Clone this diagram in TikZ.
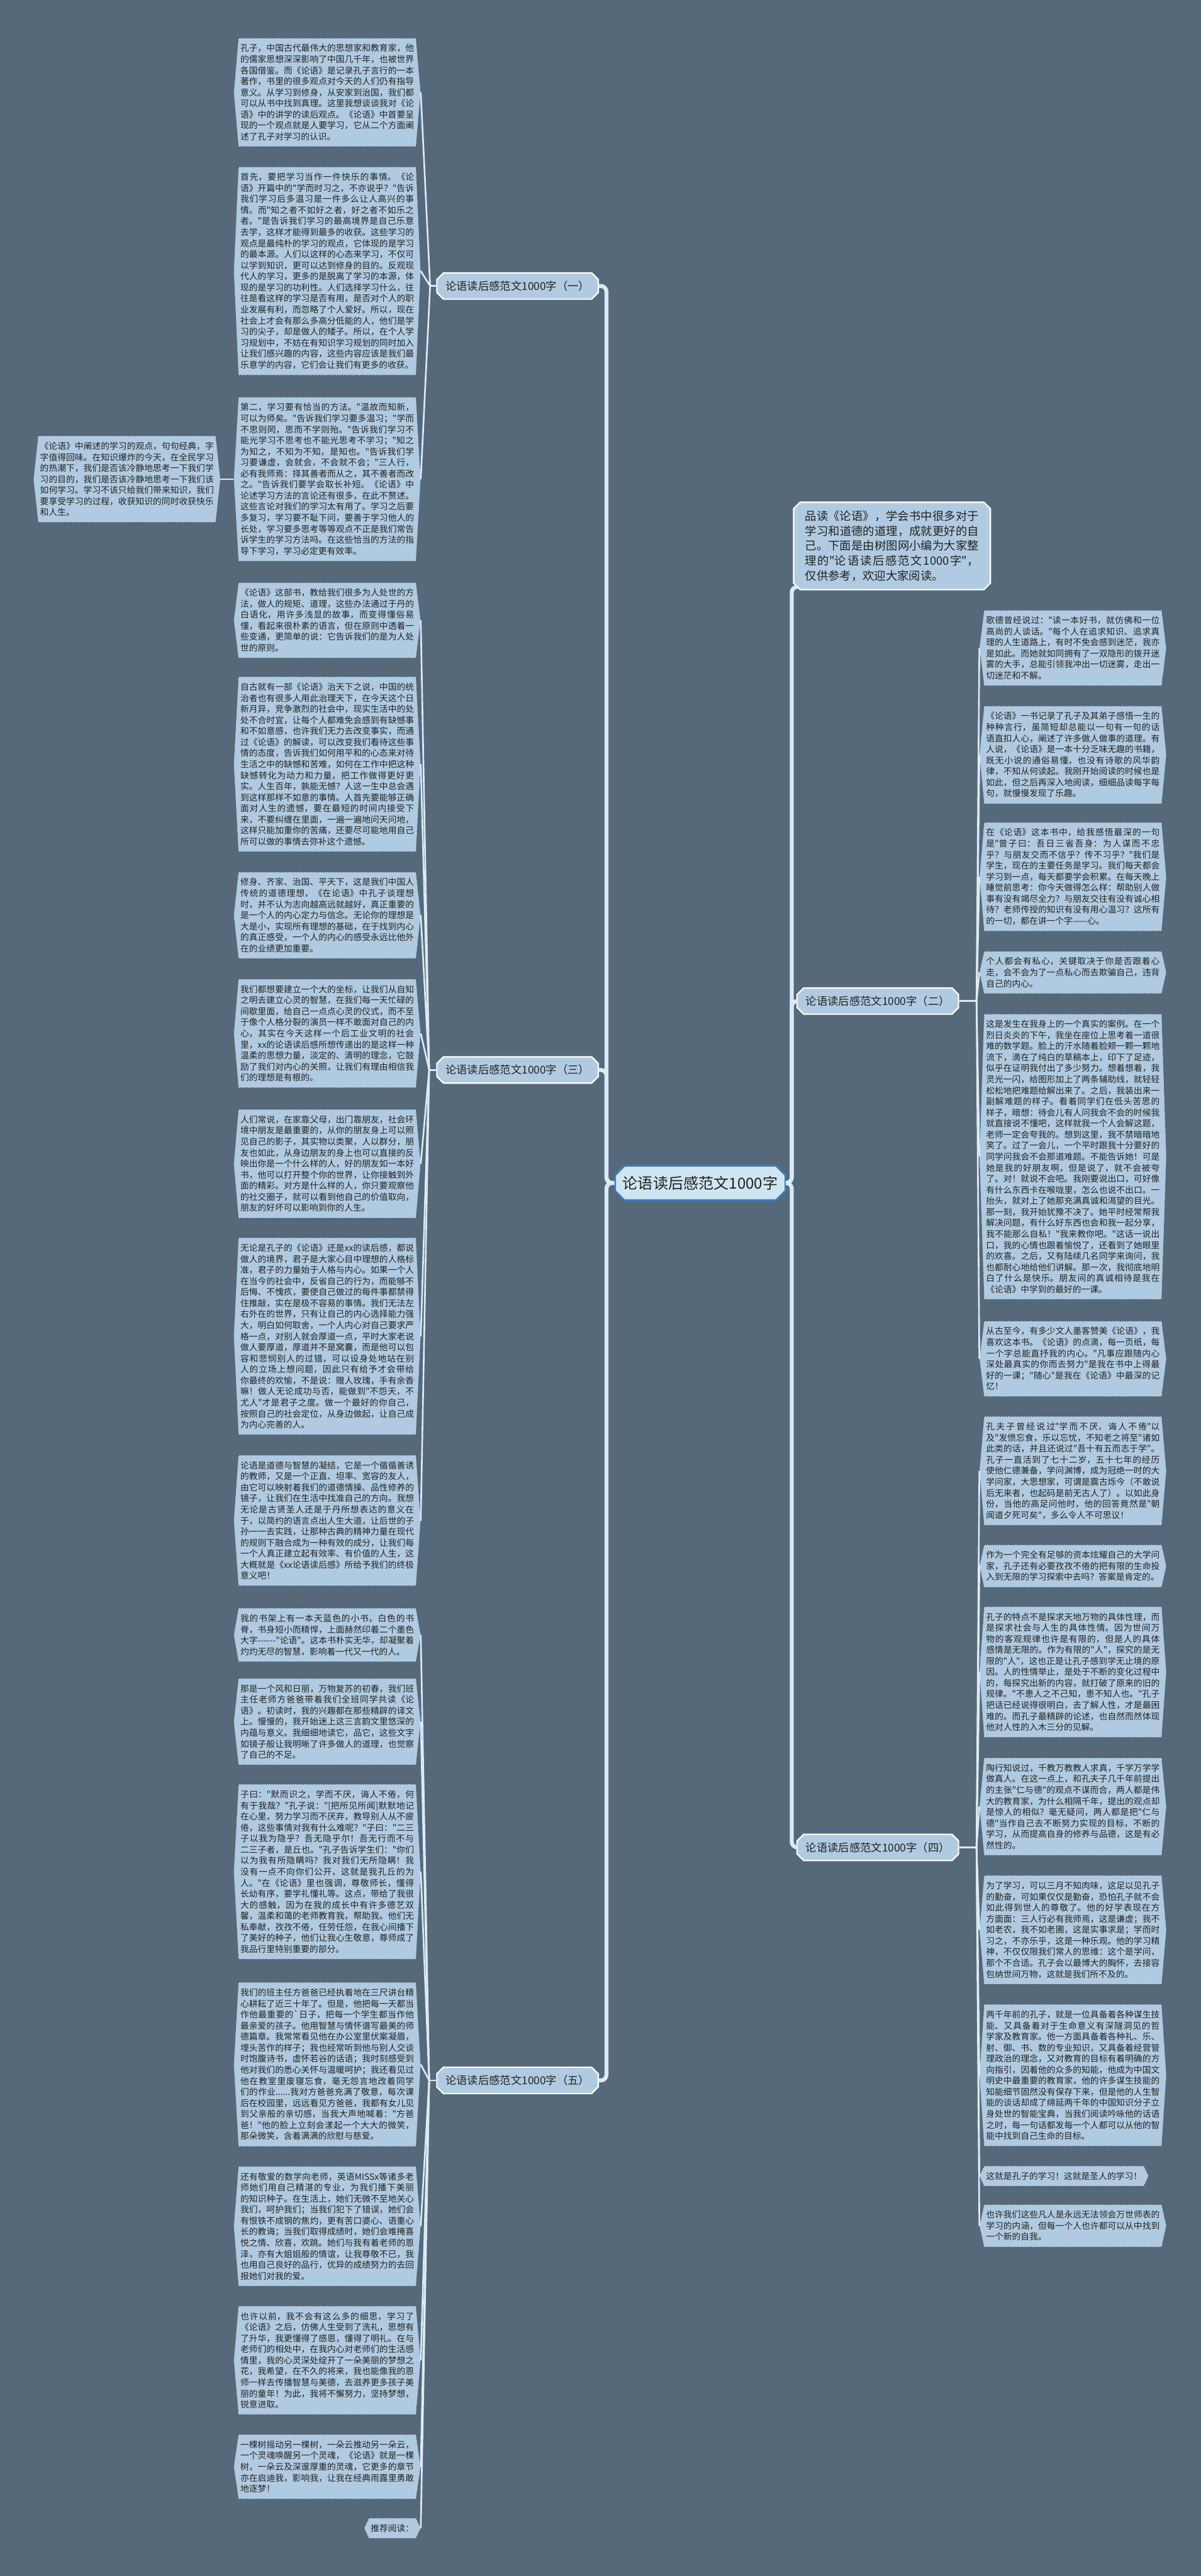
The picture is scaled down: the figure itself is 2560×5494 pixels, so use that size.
\documentclass[tikz,border=0pt]{standalone}
\usepackage{fontspec}
\newfontfamily\zhfont{Noto Sans CJK SC}
\XeTeXlinebreaklocale "zh"
\XeTeXlinebreakskip=0pt plus 1pt
\usetikzlibrary{
  positioning,
  shapes.misc,
  calc,
}
\definecolor{canvasBg}{HTML}{56697A}
\definecolor{rootFill}{HTML}{D0E5F2}
\definecolor{rootBorder}{HTML}{3C7DC0}
\definecolor{branchFill}{HTML}{B0CBE1}
\definecolor{leafFill}{HTML}{B0CBE1}
\definecolor{leafDot}{HTML}{2E3A44}
\definecolor{lineCol}{HTML}{DCEAF5}
\definecolor{textMain}{HTML}{222222}
\pgfdeclarelayer{canvas}
\pgfdeclarelayer{leafbg}
\pgfsetlayers{canvas,leafbg,main}
\tikzset{
  rootbox/.style={
    chamfered rectangle, chamfered rectangle xsep=0.1cm, chamfered rectangle ysep=0.1cm,
    draw=rootBorder, fill=rootFill, line width=1pt, text=textMain,
    minimum width=3.63cm, minimum height=0.73cm, inner sep=1pt,
    font=\zhfont\fontsize{9.2}{11}\selectfont,
  },
  branchbox/.style={
    chamfered rectangle, chamfered rectangle xsep=0.07cm, chamfered rectangle ysep=0.07cm,
    draw=white, fill=branchFill, line width=0.8pt, text=textMain,
    minimum width=3.44cm, minimum height=0.56cm, inner sep=1pt,
    font=\zhfont\fontsize{6.6}{8}\selectfont,
  },
  introbox/.style={
    chamfered rectangle, chamfered rectangle xsep=0.07cm, chamfered rectangle ysep=0.07cm,
    draw=white, fill=branchFill, line width=0.8pt, text=textMain,
    text width=105.3pt, align=justify, inner xsep=5pt, inner ysep=3pt,
    font=\zhfont\fontsize{7}{9.1}\selectfont,
  },
  leaf/.style={
    inner xsep=1pt, inner ysep=3.5pt, text=textMain,
    font=\zhfont\fontsize{5.25}{6.7}\selectfont,
  },
  leafwide/.style={leaf, text width=105.3pt, align=justify},
  leafline/.style={fill=leafFill, draw=leafDot, densely dotted, line width=0.4pt},
  trunk/.style={draw=lineCol, line width=2.4pt, rounded corners=0.12cm},
  twig/.style={draw=lineCol, line width=1pt},
}
\newcommand{\leafedge}[1]{%
  \filldraw[leafline] (#1.north west) -- (#1.north east) -- ([xshift=0.1cm]#1.east)
    -- (#1.south east) -- (#1.south west) -- ([xshift=-0.1cm]#1.west) -- cycle;}

\begin{document}
\begin{tikzpicture}[x=0.01cm, y=-0.01cm]

  \useasboundingbox (0,0) rectangle (2560,5494);
  \begin{pgfonlayer}{canvas}
    \fill[canvasBg] (0,0) rectangle (2560,5494);
  \end{pgfonlayer}

  % Root and intro
  \node[rootbox] (root) at (1493,2523) {论语读后感范文1000字};
  \node[introbox, anchor=north west] (intro) at (1698,1077) {品读《论语》，学会书中很多对于学习和道德的道理，成就更好的自己。下面是由树图网小编为大家整理的"论语读后感范文1000字"，仅供参考，欢迎大家阅读。};

  % Branches
  \node[branchbox, anchor=east] (br1) at (1277,610) {论语读后感范文1000字（一）};
  \node[branchbox, anchor=east] (br3) at (1277,2282) {论语读后感范文1000字（三）};
  \node[branchbox, anchor=east] (br5) at (1277,4437) {论语读后感范文1000字（五）};
  \node[branchbox, anchor=west] (br2) at (1698,2135) {论语读后感范文1000字（二）};
  \node[branchbox, anchor=west] (br4) at (1698,3940) {论语读后感范文1000字（四）};

  % Left column
  \node[leafwide, anchor=east] (la1) at (887,197) {孔子，中国古代最伟大的思想家和教育家，他的儒家思想深深影响了中国几千年，也被世界各国借鉴。而《论语》是记录孔子言行的一本著作，书里的很多观点对今天的人们仍有指导意义。从学习到修身，从安家到治国，我们都可以从书中找到真理。这里我想谈谈我对《论语》中的讲学的读后观点。《论语》中首要呈现的一个观点就是人要学习，它从二个方面阐述了孔子对学习的认识。};
  \node[leafwide, anchor=east] (la2) at (887,578) {首先，要把学习当作一件快乐的事情。《论语》开篇中的"学而时习之，不亦说乎？"告诉我们学习后多温习是一件多么让人高兴的事情。而"知之者不如好之者，好之者不如乐之者。"是告诉我们学习的最高境界是自己乐意去学，这样才能得到最多的收获。这些学习的观点是最纯朴的学习的观点，它体现的是学习的最本源。人们以这样的心态来学习，不仅可以学到知识，更可以达到修身的目的。反观现代人的学习，更多的是脱离了学习的本源，体现的是学习的功利性。人们选择学习什么，往往是看这样的学习是否有用，是否对个人的职业发展有利，而忽略了个人爱好。所以，现在社会上才会有那么多高分低能的人，他们是学习的尖子，却是做人的矮子。所以，在个人学习规划中，不妨在有知识学习规划的同时加入让我们感兴趣的内容，这些内容应该是我们最乐意学的内容，它们会让我们有更多的收获。};
  \node[leafwide, anchor=east] (la3) at (887,1022) {第二，学习要有恰当的方法。"温故而知新，可以为师矣。"告诉我们学习要多温习；"学而不思则罔，思而不学则殆。"告诉我们学习不能光学习不思考也不能光思考不学习；"知之为知之，不知为不知，是知也。"告诉我们学习要谦虚，会就会，不会就不会；"三人行，必有我师焉：择其善者而从之，其不善者而改之。"告诉我们要学会取长补短。《论语》中论述学习方法的言论还有很多，在此不赘述。这些言论对我们的学习太有用了。学习之后要多复习，学习要不耻下问，要善于学习他人的长处，学习要多思考等等观点不正是我们常告诉学生的学习方法吗。在这些恰当的方法的指导下学习，学习必定更有效率。};
  \node[leafwide, anchor=east] (lx) at (460,1022) {《论语》中阐述的学习的观点，句句经典，字字值得回味。在知识爆炸的今天，在全民学习的热潮下，我们是否该冷静地思考一下我们学习的目的，我们是否该冷静地思考一下我们该如何学习。学习不该只给我们带来知识，我们要享受学习的过程，收获知识的同时收获快乐和人生。};
  \node[leafwide, anchor=east] (la4) at (887,1323) {《论语》这部书，教给我们很多为人处世的方法，做人的规矩、道理，这些办法通过于丹的白语化，用许多浅显的故事，而变得懂俗易懂，看起来很朴素的语言，但在原则中透着一些变通，更简单的说：它告诉我们的是为人处世的原则。};
  \node[leafwide, anchor=east] (la5) at (887,1630) {自古就有一部《论语》治天下之说，中国的统治者也有很多人用此治理天下，在今天这个日新月异，竞争激烈的社会中，现实生活中的处处不合时宜，让每个人都难免会感到有缺憾事和不如意感，也许我们无力去改变事实，而通过《论语》的解读，可以改变我们看待这些事情的态度，告诉我们如何用平和的心态来对待生活之中的缺憾和苦难，如何在工作中把这种缺憾转化为动力和力量，把工作做得更好更实。人生百年，孰能无憾？人这一生中总会遇到这样那样不如意的事情。人首先要能够正确面对人生的遗憾，要在最短的时间内接受下来，不要纠缠在里面，一遍一遍地问天问地，这样只能加重你的苦痛，还要尽可能地用自己所可以做的事情去弥补这个遗憾。};
  \node[leafwide, anchor=east] (la6) at (887,1952) {修身、齐家、治国、平天下，这是我们中国人传统的道德理想，《在论语》中孔子谈理想时，并不认为志向越高远就越好，真正重要的是一个人的内心定力与信念。无论你的理想是大是小，实现所有理想的基础，在于找到内心的真正感受，一个人的内心的感受永远比他外在的业绩更加重要。};
  \node[leafwide, anchor=east] (la7) at (887,2204) {我们都想要建立一个大的坐标，让我们从自知之明去建立心灵的智慧，在我们每一天忙碌的间歇里面，给自己一点点心灵的仪式，而不至于像个人格分裂的演员一样不敢面对自己的内心，其实在今天这样一个后工业文明的社会里，xx的论语读后感所想传递出的是这样一种温柔的思想力量，淡定的、清明的理念，它鼓励了我们对内心的关照，让我们有理由相信我们的理想是有根的。};
  \node[leafwide, anchor=east] (la8) at (887,2482) {人们常说，在家靠父母，出门靠朋友，社会环境中朋友是最重要的，从你的朋友身上可以照见自己的影子，其实物以类聚，人以群分，朋友也如此，从身边朋友的身上也可以直接的反映出你是一个什么样的人，好的朋友如一本好书，他可以打开整个你的世界，让你接触到外面的精彩。对方是什么样的人，你只要观察他的社交圈子，就可以看到他自己的价值取向，朋友的好坏可以影响到你的人生。};
  \node[leafwide, anchor=east] (la9) at (887,2850) {无论是孔子的《论语》还是xx的读后感，都说做人的境界，君子是大家心目中理想的人格标准，君子的力量始于人格与内心。如果一个人在当今的社会中，反省自己的行为，而能够不后悔、不愧疚，要使自己做过的每件事都禁得住推敲，实在是极不容易的事情。我们无法左右外在的世界，只有让自己的内心选择能力强大，明白如何取舍，一个人内心对自己要求严格一点，对别人就会厚道一点，平时大家老说做人要厚道，厚道并不是窝囊，而是他可以包容和悲悯别人的过错，可以设身处地站在别人的立场上想问题，因此只有给予才会带给你最终的欢愉，不是说：赠人玫瑰，手有余香嘛！做人无论成功与否，能做到"不怨天，不尤人"才是君子之度。做一个最好的你自己，按照自己的社会定位，从身边做起，让自己成为内心完善的人。};
  \node[leafwide, anchor=east] (la10) at (887,3243) {论语是道德与智慧的凝结，它是一个循循善诱的教师，又是一个正直、坦率、宽容的友人，由它可以映射着我们的道德情操、品性修养的镜子，让我们在生活中找准自己的方向。我想无论是古贤圣人还是于丹所想表达的意义在于，以简约的语言点出人生大道，让后世的子孙一一去实践，让那种古典的精神力量在现代的规则下融合成为一种有效的成分，让我们每一个人真正建立起有效率、有价值的人生，这大概就是《xx论语读后感》所给予我们的终极意义吧！};
  \node[leafwide, anchor=east] (la11) at (887,3487) {我的书架上有一本天蓝色的小书，白色的书脊，书身短小而精悍，上面赫然印着二个墨色大字------"论语"。这本书朴实无华，却凝聚着灼灼无尽的智慧，影响着一代又一代的人。};
  \node[leafwide, anchor=east] (la12) at (887,3672) {那是一个风和日丽，万物复苏的初春，我们班主任老师方爸爸带着我们全班同学共读《论语》。初读时，我的兴趣都在那些精辟的译文上。慢慢的，我开始迷上这三言韵文里悠深的内蕴与意义。我细细地读它，品它，这些文字如镜子般让我明晰了许多做人的道理，也觉察了自己的不足。};
  \node[leafwide, anchor=east] (la13) at (887,3992) {子曰："默而识之，学而不厌，诲人不倦，何有于我哉？"孔子说："[把所见所闻]默默地记在心里，努力学习而不厌弃，教导别人从不疲倦，这些事情对我有什么难呢？"子曰："二三子以我为隐乎？吾无隐乎尔！吾无行而不与二三子者，是丘也。"孔子告诉学生们："你们以为我有所隐瞒吗？我对我们无所隐瞒！我没有一点不向你们公开，这就是我孔丘的为人。"在《论语》里也强调，尊敬师长，懂得长幼有序，要学礼懂礼等。这点，带给了我很大的感触，因为在我的成长中有许多德艺双馨，温柔和蔼的老师教育我，帮助我。他们无私奉献，孜孜不倦，任劳任怨，在我心间播下了美好的种子，他们让我心生敬意，尊师成了我品行里特别重要的部分。};
  \node[leafwide, anchor=east] (la14) at (887,4403) {我们的班主任方爸爸已经执着地在三尺讲台精心耕耘了近三十年了。但是，他把每一天都当作他最重要的`日子，把每一个学生都当作他最亲爱的孩子。他用智慧与情怀谱写最美的师德篇章。我常常看见他在办公室里伏案凝眉，埋头苦作的样子；我也经常听到他与别人交谈时饱腹诗书，虚怀若谷的话语；我时刻感受到他对我们的悉心关怀与温暖呵护；我还看见过他在教室里废寝忘食，毫无怨言地改着同学们的作业......我对方爸爸充满了敬意，每次课后在校园里，远远看见方爸爸，我都有女儿见到父亲般的亲切感，当我大声地喊着："方爸爸！"他的脸上立刻会漾起一个大大的微笑，那朵微笑，含着满满的欣慰与慈爱。};
  \node[leafwide, anchor=east] (la15) at (887,4748) {还有敬爱的数学向老师，英语MISSx等诸多老师她们用自己精湛的专业，为我们播下美丽的知识种子。在生活上，她们无微不至地关心我们，呵护我们；当我们犯下了错误，她们会有恨铁不成钢的焦灼，更有苦口婆心、语重心长的教诲；当我们取得成绩时，她们会难掩喜悦之情、欣喜，欢跳。她们与我有着老师的恩泽，亦有大姐姐般的情谊，让我尊敬不已，我也用自己良好的品行，优异的成绩努力的去回报她们对我的爱。};
  \node[leafwide, anchor=east] (la16) at (887,5034) {也许以前，我不会有这么多的细思，学习了《论语》之后，仿佛人生受到了洗礼，思想有了升华，我更懂得了感恩，懂得了明礼。在与老师们的相处中，在我内心对老师们的生活感情里，我的心灵深处绽开了一朵美丽的梦想之花，我希望，在不久的将来，我也能像我的恩师一样去传播智慧与美德，去滋养更多孩子美丽的童年！为此，我将不懈努力，坚持梦想，锐意进取。};
  \node[leafwide, anchor=east] (la17) at (887,5261) {一棵树摇动另一棵树，一朵云推动另一朵云，一个灵魂唤醒另一个灵魂，《论语》就是一棵树，一朵云及深邃厚重的灵魂，它更多的章节亦在启迪我，影响我，让我在经典雨露里勇敢地逐梦！};
  \node[leaf, anchor=east] (la18) at (887,5392) {推荐阅读：};

  % Right column
  \node[leafwide, anchor=west] (ra1) at (2098,1382) {歌德曾经说过："读一本好书，就仿佛和一位高尚的人谈话。"每个人在追求知识、追求真理的人生道路上，有时不免会感到迷茫，我亦是如此。而她就如同拥有了一双隐形的拨开迷雾的大手，总能引领我冲出一切迷雾，走出一切迷茫和不解。};
  \node[leafwide, anchor=west] (ra2) at (2098,1610) {《论语》一书记录了孔子及其弟子感悟一生的种种言行，虽简短却总能以一句有一句的话语直扣人心，阐述了许多做人做事的道理。有人说，《论语》是一本十分乏味无趣的书籍，既无小说的通俗易懂，也没有诗歌的风华韵律，不知从何读起。我刚开始阅读的时候也是如此，但之后再深入地阅读，细细品读每字每句，就慢慢发现了乐趣。};
  \node[leafwide, anchor=west] (ra3) at (2098,1870) {在《论语》这本书中，给我感悟最深的一句是"曾子曰：吾日三省吾身：为人谋而不忠乎？与朋友交而不信乎？传不习乎？"我们是学生，现在的主要任务是学习。我们每天都会学习到一点，每天都要学会积累。在每天晚上睡觉前思考：你今天做得怎么样：帮助别人做事有没有竭尽全力？与朋友交往有没有诚心相待？老师传授的知识有没有用心温习？这所有的一切，都在讲一个字——心。};
  \node[leafwide, anchor=west] (ra4) at (2098,2074) {个人都会有私心，关键取决于你是否跟着心走，会不会为了一点私心而去欺骗自己，违背自己的内心。};
  \node[leafwide, anchor=west] (ra5) at (2098,2467) {这是发生在我身上的一个真实的案例。在一个烈日炎炎的下午，我坐在座位上思考着一道很难的数学题。脸上的汗水随着脸颊一颗一颗地流下，滴在了纯白的草稿本上，印下了足迹，似乎在证明我付出了多少努力。想着想着，我灵光一闪，给图形加上了两条辅助线，就轻轻松松地把难题给解出来了。之后，我装出来一副解难题的样子。看着同学们在低头苦思的样子，暗想：待会儿有人问我会不会的时候我就直接说不懂吧，这样就我一个人会解这题，老师一定会夸我的。想到这里，我不禁暗暗地笑了。过了一会儿，一个平时跟我十分要好的同学问我会不会那道难题。不能告诉她！可是她是我的好朋友啊，但是说了，就不会被夸了。对！就说不会吧。我刚要说出口，可好像有什么东西卡在喉咙里，怎么也说不出口。一抬头，就对上了她那充满真诚和渴望的目光。那一刻，我开始犹豫不决了。她平时经常帮我解决问题，有什么好东西也会和我一起分享，我不能那么自私！"我来教你吧。"这话一说出口，我的心情也跟着愉悦了，还看到了她眼里的欢喜。之后，又有陆续几名同学来询问，我也都耐心地给他们讲解。那一次，我彻底地明白了什么是快乐。朋友间的真诚相待是我在《论语》中学到的最好的一课。};
  \node[leafwide, anchor=west] (ra6) at (2098,2898) {从古至今，有多少文人墨客赞美《论语》，我喜欢这本书。《论语》的点滴，每一页纸，每一个字总能直抒我的内心。"凡事应跟随内心深处最真实的你而去努力"是我在书中上得最好的一课；"随心"是我在《论语》中最深的记忆！};
  \node[leafwide, anchor=west] (ra7) at (2098,3137) {孔夫子曾经说过"学而不厌，诲人不倦"以及"发愤忘食，乐以忘忧，不知老之将至"诸如此类的话，并且还说过"吾十有五而志于学"。孔子一直活到了七十二岁，五十七年的经历使他仁德兼备，学问渊博，成为冠绝一时的大学问家，大思想家，可谓是震古烁今（不敢说后无来者，也起码是前无古人了）。以如此身份，当他的高足问他时，他的回答竟然是"朝闻道夕死可矣"，多么令人不可思议！};
  \node[leafwide, anchor=west] (ra8) at (2098,3340) {作为一个完全有足够的资本炫耀自己的大学问家，孔子还有必要孜孜不倦的把有限的生命投入到无限的学习探索中去吗？答案是肯定的。};
  \node[leafwide, anchor=west] (ra9) at (2098,3566) {孔子的特点不是探求天地万物的具体性理，而是探求社会与人生的具体性情。因为世间万物的客观规律也许是有限的，但是人的具体感情是无限的。作为有限的"人"，探究的是无限的"人"，这也正是让孔子感到学无止境的原因。人的性情举止，是处于不断的变化过程中的，每探究出新的内容，就打破了原来的旧的规律。"不患人之不己知，患不知人也。"孔子把话已经说得很明白，去了解人性，才是最困难的。而孔子最精辟的论述，也自然而然体现他对人性的入木三分的见解。};
  \node[leafwide, anchor=west] (ra10) at (2098,3853) {陶行知说过，千教万教教人求真，千学万学学做真人。在这一点上，和孔夫子几千年前提出的主张"仁与德"的观点不谋而合，两人都是伟大的教育家，为什么相隔千年，提出的观点却是惊人的相似？毫无疑问，两人都是把"仁与德"当作自己去不断努力实现的目标，不断的学习，从而提高自身的修养与品德，这是有必然性的。};
  \node[leafwide, anchor=west] (ra11) at (2098,4116) {为了学习，可以三月不知肉味，这足以见孔子的勤奋，可如果仅仅是勤奋，恐怕孔子就不会如此得到世人的尊敬了。他的好学表现在方方面面：三人行必有我师焉，这是谦虚；我不如老农，我不如老圃，这是实事求是；学而时习之，不亦乐乎，这是一种乐观。他的学习精神，不仅仅限我们常人的思维：这个是学问，那个不合适。孔子会以最博大的胸怀，去接容包纳世间万物，这就是我们所不及的。};
  \node[leafwide, anchor=west] (ra12) at (2098,4426) {两千年前的孔子，就是一位具备着各种谋生技能、又具备着对于生命意义有深隧洞见的哲学家及教育家。他一方面具备着各种礼、乐、射、御、书、数的专业知识，又具备着经营管理政治的理念，又对教育的目标有着明确的方向指引，因着他的众多的知能，他成为中国文明史中最重要的教育家，他的许多谋生技能的知能细节固然没有保存下来，但是他的人生智能的谈话却成了绵延两千年的中国知识分子立身处世的智能宝典，当我们阅读吟咏他的话语之时，每一句话都发每一个人都可以从他的智能中找到自己生命的目标。};
  \node[leaf, anchor=west] (ra13) at (2098,4641) {这就是孔子的学习！这就是圣人的学习！};
  \node[leafwide, anchor=west] (ra14) at (2098,4747) {也许我们这些凡人是永远无法领会万世师表的学习的内涵，但每一个人也许都可以从中找到一个新的自我。};

  % Leaf outlines
  \begin{pgfonlayer}{leafbg}
    \foreach \i in {1,...,18} {\leafedge{la\i}}
    \foreach \i in {1,...,14} {\leafedge{ra\i}}
    \leafedge{lx}
  \end{pgfonlayer}

  % Trunks
  \coordinate (lt) at (1293,2523);
  \coordinate (rt) at (1688,2523);
  \foreach \b in {br1,br3,br5} \draw[trunk] (root.west) -- (lt) |- (\b.east);
  \foreach \b in {br2,br4} \draw[trunk] (root.east) -- (rt) |- (\b.west);
  \draw[trunk] (root.east) -- (rt) |- (intro.south west);

  % Twigs
  \coordinate (j1) at (917,610);
  \coordinate (j3) at (915,2282);
  \coordinate (j5) at (915,4437);
  \coordinate (j2) at (2082,2135);
  \coordinate (j4) at (2082,3940);
  \draw[twig] (br1.west) -- (j1);
  \draw[twig] (br3.west) -- (j3);
  \draw[twig] (br5.west) -- (j5);
  \draw[twig] (br2.east) -- (j2);
  \draw[twig] (br4.east) -- (j4);
  \foreach \i in {1,2,3} \draw[twig] (j1) -- ([xshift=0.1cm]la\i.east);
  \foreach \i in {4,...,10} \draw[twig] (j3) -- ([xshift=0.1cm]la\i.east);
  \foreach \i in {11,...,18} \draw[twig] (j5) -- ([xshift=0.1cm]la\i.east);
  \foreach \i in {1,...,6} \draw[twig] (j2) -- ([xshift=-0.1cm]ra\i.west);
  \foreach \i in {7,...,14} \draw[twig] (j4) -- ([xshift=-0.1cm]ra\i.west);
  \draw[twig] ([xshift=0.1cm]lx.east) -- ([xshift=-0.1cm]la3.west);

\end{tikzpicture}
\end{document}
